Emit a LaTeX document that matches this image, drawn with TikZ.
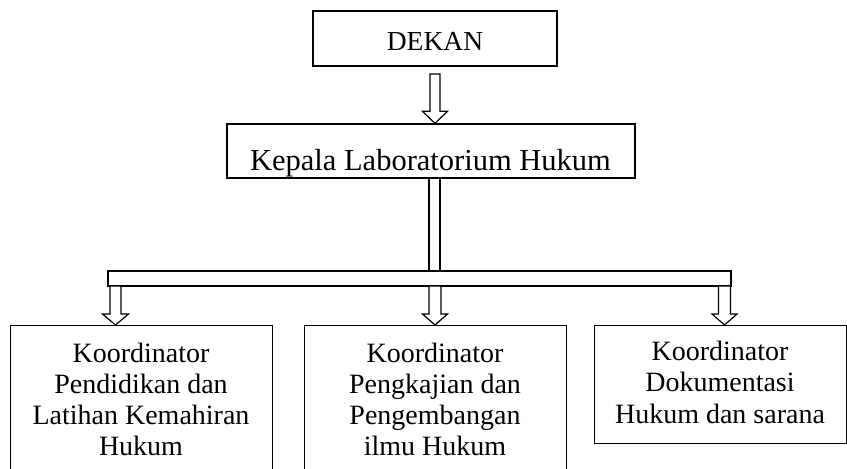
\documentclass[tikz,border=0pt]{standalone}
\usepackage{fontspec}
\setmainfont{Liberation Serif}
\usetikzlibrary{calc}
\tikzset{
  boxstyle/.style={draw=black, line width=1.4pt, rectangle, inner sep=0pt},
  txt/.style={align=center, inner sep=0pt, font=\fontsize{28}{31}\selectfont},
  arrowstyle/.style={draw=black, fill=white, line width=1.2pt, line join=miter},
}
\newcommand\hollowarrow[5]{% start coord, end coord, shaft half, head half, head length
  \draw[arrowstyle] let \p1=(#1), \p2=(#2) in
    (\x1-#3pt,\y1) -- (\x1-#3pt,\y2+#5pt) -- (\x1-#4pt,\y2+#5pt) -- (\x1,\y2)
    -- (\x1+#4pt,\y2+#5pt) -- (\x1+#3pt,\y2+#5pt) -- (\x1+#3pt,\y1) -- cycle;}
\begin{document}
\begin{tikzpicture}[x=1pt,y=-1pt]
\useasboundingbox (0,0) rectangle (847,469);
\clip (0,0) rectangle (847,469);
\fill[white] (0,0) rectangle (847,469);

% top boxes
\node[boxstyle, minimum width=244pt, minimum height=55pt] (dekan) at (435,38.5) {};
\node[inner sep=0pt, anchor=base, font=\fontsize{27.5}{31}\selectfont] (dekant) at (435,50) {DEKAN};
\node[boxstyle, minimum width=408pt, minimum height=54pt] (kepala) at (431,151) {};
\node[inner sep=0pt, anchor=base, font=\fontsize{30.5}{34}\selectfont] (kepalat) at (430.5,170) {Kepala Laboratorium Hukum};

% bottom boxes
\node[boxstyle, anchor=north west, minimum width=262pt, minimum height=170pt] (b1) at (10,325) {};
\node[boxstyle, anchor=north west, minimum width=262pt, minimum height=170pt] (b2) at (304,325) {};
\node[boxstyle, anchor=north west, minimum width=252pt, minimum height=118pt] (b3) at (594,325) {};
\node[txt, anchor=base] (b1t) at (141,455) {Koordinator\\Pendidikan dan\\Latihan Kemahiran\\Hukum};
\node[txt, anchor=base] (b2t) at (435,455) {Koordinator\\Pengkajian dan\\Pengembangan\\ilmu Hukum};
\node[txt, anchor=base, font=\fontsize{28}{31.5}\selectfont] (b3t) at (720,423) {Koordinator\\Dokumentasi\\Hukum dan sarana};

% horizontal bar
\node[draw=black, line width=1.2pt, rectangle, inner sep=0pt, minimum width=623pt, minimum height=15pt] (bar) at (419.5,278.5) {};

% arrow DEKAN -> Kepala
\coordinate (a0) at (435,74);
\hollowarrow{a0}{kepala.north -| a0}{5}{12.5}{12}

% shaft Kepala -> bar
\coordinate (s0) at (434.5,178);
\draw[line width=1.2pt] ($(s0)+(-5.5,0)$) -- ($(s0 |- bar.north)+(-5.5,0)$);
\draw[line width=1.2pt] ($(s0)+(5.5,0)$) -- ($(s0 |- bar.north)+(5.5,0)$);

% arrows bar -> boxes
\coordinate (a1) at (115.5,286);
\coordinate (a2) at (435,286);
\coordinate (a3) at (724.5,286);
\hollowarrow{a1}{b1.north -| a1}{5.5}{13}{11}
\hollowarrow{a2}{b2.north -| a2}{6}{12.5}{11}
\hollowarrow{a3}{b3.north -| a3}{6}{12.5}{11}
\end{tikzpicture}
\end{document}
